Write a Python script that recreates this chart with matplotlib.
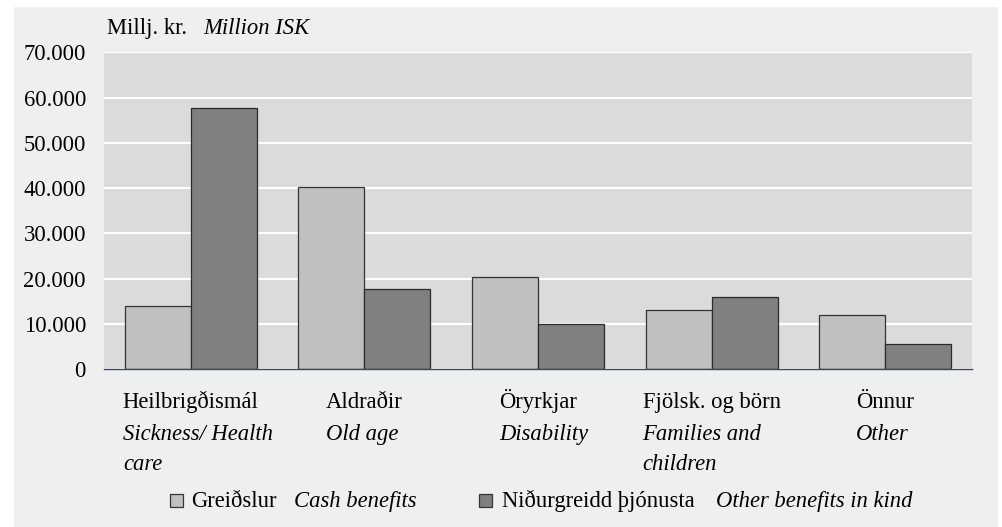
import matplotlib
matplotlib.use("Agg")
import matplotlib.pyplot as plt
from matplotlib.patches import Rectangle
import numpy as np

# ---- data ----
categories_is = ["Heilbrigðismál", "Aldraðir", "Öryrkjar", "Fjölsk. og börn", "Önnur"]
categories_en = [["Sickness/ Health", "care"], ["Old age"], ["Disability"],
                 ["Families and", "children"], ["Other"]]
cash = [14000, 40300, 20400, 13200, 12100]
in_kind = [57600, 17700, 9900, 15900, 5500]
series_is = ["Greiðslur", "Niðurgreidd þjónusta"]
series_en = ["Cash benefits", "Other benefits in kind"]
yticks = [0, 10000, 20000, 30000, 40000, 50000, 60000, 70000]
ytick_labels = ["0", "10.000", "20.000", "30.000", "40.000", "50.000", "60.000", "70.000"]

W, H = 1002, 527
FONT = "Liberation Serif"
FS = 16.3
C_CASH = "#c0c0c0"
C_KIND = "#808080"

plt.rcParams["font.family"] = [FONT, "DejaVu Serif"]

fig = plt.figure(figsize=(W / 100, H / 100), dpi=100, facecolor="white")

def fx(px):
    return px / W

def fy(py):
    return 1 - py / H

# outer panel
fig.patches.append(Rectangle((fx(14), 0), fx(998) - fx(14), fy(7), transform=fig.transFigure,
                             facecolor="#efefef", edgecolor="none", zorder=-5))

ax = fig.add_axes([fx(104), fy(369.3), fx(972) - fx(104), fy(52.3) - fy(369.3)])
ax.set_zorder(2)
ax.set_facecolor("#dbdbdb")

x = np.arange(len(categories_is))
bw = 0.38
ax.bar(x - bw / 2, cash, width=bw, color=C_CASH, edgecolor="#333333", linewidth=0.9, zorder=3)
ax.bar(x + bw / 2, in_kind, width=bw, color=C_KIND, edgecolor="#2a2a2a", linewidth=0.9, zorder=3)

ax.set_xlim(-0.5, len(categories_is) - 0.5)
ax.set_ylim(0, 70000)
ax.set_yticks(yticks)
ax.set_yticklabels(ytick_labels, fontsize=FS, family=FONT)
ax.tick_params(axis="y", length=0, pad=13)
ax.set_xticks([])
ax.yaxis.grid(True, color="white", linewidth=1.6, zorder=1)
ax.set_axisbelow(True)
for s in ["top", "right", "left"]:
    ax.spines[s].set_visible(False)
ax.spines["bottom"].set_color("#3c4660")
ax.spines["bottom"].set_linewidth(1.0)
ax.spines["bottom"].set_zorder(4)

# title
fig.text(fx(107), fy(34.3), "Millj. kr.", fontsize=FS, family=FONT, va="baseline", ha="left")
fig.text(fx(203), fy(34.3), "Million ISK", fontsize=FS, family=FONT, style="italic",
         va="baseline", ha="left")

# category labels
is_texts = []
for i, lab in enumerate(categories_is):
    cx_px = 104 + (972 - 104) * (i + 0.5) / len(categories_is)
    t = fig.text(fx(cx_px), fy(408.3), lab, fontsize=FS, family=FONT, ha="center", va="baseline")
    is_texts.append(t)

fig.canvas.draw()
renderer = fig.canvas.get_renderer()
for t, en_lines in zip(is_texts, categories_en):
    bb = t.get_window_extent(renderer)
    x0 = bb.x0 / W
    for j, line in enumerate(en_lines):
        fig.text(x0, fy(440 + 30.5 * j), line, fontsize=FS, family=FONT, style="italic",
                 ha="left", va="baseline")

# legend
leg_y = 506.7
markers = [(170, C_CASH), (479, C_KIND)]
is_x = [191, 502]
en_x = [294, 716]
for (mx, col), sx_is, sx_en, s_is, s_en in zip(markers, is_x, en_x, series_is, series_en):
    fig.patches.append(Rectangle((fx(mx), fy(507)), fx(13), 13 / H, transform=fig.transFigure,
                                 facecolor=col, edgecolor="#333333", linewidth=0.9, zorder=5))
    fig.text(fx(sx_is), fy(leg_y), s_is, fontsize=FS, family=FONT, ha="left", va="baseline")
    fig.text(fx(sx_en), fy(leg_y), s_en, fontsize=FS, family=FONT, style="italic",
             ha="left", va="baseline")

fig.savefig("out.png", dpi=100, facecolor="white")
